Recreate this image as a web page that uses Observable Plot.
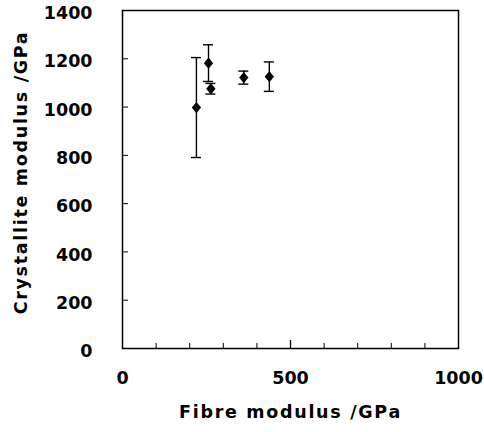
<!DOCTYPE html>
<html>
<head>
<meta charset="utf-8">
<script src="https://cdn.jsdelivr.net/npm/d3@7"></script>
<script src="https://cdn.jsdelivr.net/npm/@observablehq/plot@0.6"></script>
<style>
  html, body { margin: 0; padding: 0; background: #fff; }
  #chart svg { display: block; }
</style>
</head>
<body>
<div id="chart"></div>
<script>
// Data
const fibreModulus = [220, 256, 263, 361, 437];          // GPa
const crystalliteModulus = [998, 1182, 1076, 1122, 1126]; // GPa
const errorHalf = [207, 76, 22, 27, 61];                 // ± GPa

const xTickLabels = [0, 500, 1000];
const yTickLabels = [0, 200, 400, 600, 800, 1000, 1200, 1400];
const xMinorTicks = [100, 200, 300, 400, 600, 700, 800, 900];
const xMajorTicks = [500];
const yInnerTicks = [200, 400, 600, 800, 1000, 1200];

const xLabel = "Fibre modulus /GPa";
const yLabel = "Crystallite modulus /GPa";

const points = fibreModulus.map((x, i) => ({
  x, y: crystalliteModulus[i], lo: crystalliteModulus[i] - errorHalf[i], hi: crystalliteModulus[i] + errorHalf[i]
}));

const FONT = "DejaVu Sans";
const diamond = {
  draw(context, size) {
    const h = Math.sqrt(size / (2 * 0.82));
    const w = h * 0.82;
    context.moveTo(0, -h);
    context.lineTo(w, 0);
    context.lineTo(0, h);
    context.lineTo(-w, 0);
    context.closePath();
  }
};

const fmt = d => String(d);

const chart = Plot.plot({
  width: 484,
  height: 432,
  marginLeft: 122,
  marginRight: 26,
  marginTop: 10,
  marginBottom: 84,
  style: { fontFamily: FONT, fontWeight: "bold", fontSize: "17.5px", color: "#000", background: "#fff", overflow: "visible" },
  x: { domain: [0, 1000] },
  y: { domain: [0, 1400] },
  marks: [
    Plot.axisX(xTickLabels, { tickSize: 0, tickPadding: 23, tickFormat: fmt, label: null, fontSize: 17.5, fontWeight: "bold", fill: "#000" }),
    Plot.axisY(yTickLabels, { tickSize: 0, tickPadding: 30, dy: 3, tickFormat: fmt, label: null, fontSize: 17.5, fontWeight: "bold", fill: "#000" }),
    // inward ticks
    Plot.ruleX(xMinorTicks, { x: d => d, y1: 0, y2: 0, insetTop: -5, stroke: "#000", strokeWidth: 1 }),
    Plot.ruleX(xMajorTicks, { x: d => d, y1: 0, y2: 0, insetTop: -8, stroke: "#000", strokeWidth: 1.3 }),
    Plot.ruleY(yInnerTicks, { y: d => d, x1: 0, x2: 0, insetRight: -6, stroke: "#000", strokeWidth: 1 }),
    Plot.frame({ stroke: "#000", strokeWidth: 1.5 }),
    // error bars
    Plot.ruleX(points, { x: "x", y1: "lo", y2: "hi", stroke: "#000", strokeWidth: 1.4 }),
    Plot.ruleY(points, { y: "lo", x1: "x", x2: "x", insetLeft: -5, insetRight: -5, stroke: "#000", strokeWidth: 1.4 }),
    Plot.ruleY(points, { y: "hi", x1: "x", x2: "x", insetLeft: -5, insetRight: -5, stroke: "#000", strokeWidth: 1.4 }),
    Plot.dot(points, { x: "x", y: "y", symbol: diamond, r: 4.1, fill: "#000", stroke: "none" }),
    // axis titles
    Plot.text([xLabel], { text: d => d, frameAnchor: "bottom", textAnchor: "middle", dy: 69, fontSize: 17.5, fontWeight: "bold", fill: "#000" }),
    Plot.text([yLabel], { text: d => d, frameAnchor: "left", textAnchor: "middle", rotate: -90, dx: -101.5, dy: -7, fontSize: 17.5, fontWeight: "bold", fill: "#000" })
  ]
});

document.getElementById("chart").appendChild(chart);
chart.querySelectorAll("text").forEach(t => {
  if (t.textContent === xLabel || t.textContent === yLabel) t.setAttribute("letter-spacing", "1.7");
});
</script>
</body>
</html>
